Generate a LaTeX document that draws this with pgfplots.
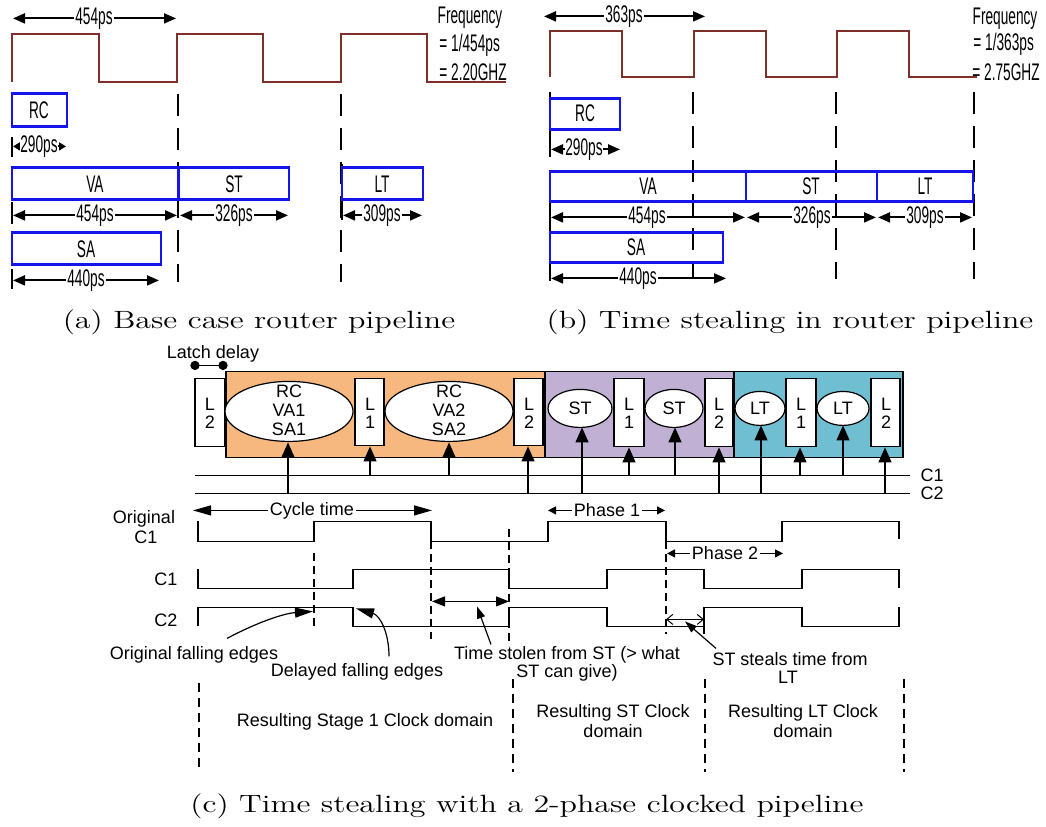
\documentclass[border=0pt]{standalone}
\usepackage{pgfplots}
\pgfplotsset{compat=1.18}
\usepackage{fontspec}
\setsansfont{Liberation Sans}
\usepackage{graphicx}
\usetikzlibrary{arrows.meta}

\definecolor{clk}{RGB}{128,48,42}
\definecolor{stg}{RGB}{20,20,235}
\definecolor{orng}{RGB}{247,184,128}
\definecolor{purp}{RGB}{192,176,212}
\definecolor{tealb}{RGB}{112,190,210}

% condensed labels of the two pipeline sketches
\newcommand{\nt}[1]{\scalebox{0.57}[1]{\sffamily\fontsize{12}{14}\selectfont #1}}
% captions
\newcommand{\subcap}[1]{\scalebox{1.28}[1]{\fontsize{12.5}{15}\selectfont #1}}

\begin{document}
\begin{tikzpicture}
\begin{axis}[
  scale only axis, width=523pt, height=411pt,
  xmin=0, xmax=1046, ymin=0, ymax=822, y dir=reverse,
  axis lines=none, clip=false,
  every axis plot/.append style={mark=none},
  wave/.style={clk, line width=1pt},
  stage/.style={stg, line width=1.25pt},
  clkdash/.style={black, line width=0.9pt, dash pattern=on 11pt off 6pt},
  tick/.style={black, line width=0.9pt},
  dim/.style={black, line width=1pt, {Triangle[length=6pt,width=5pt]}-{Triangle[length=6pt,width=5pt]}},
  sdim/.style={black, line width=1pt, {Triangle[length=3.5pt,width=4pt]}-{Triangle[length=3.5pt,width=4pt]}},
  sig/.style={black, line width=0.65pt},
  fdash/.style={black, line width=0.6pt, dash pattern=on 4pt off 2.5pt},
  ldash/.style={black, line width=0.6pt, dash pattern=on 4.5pt off 3pt},
  clkarrow/.style={black, line width=0.6pt, -{Triangle[length=7.5pt,width=6.5pt]}},
]
% full drawing area
\addplot[draw=none, forget plot] coordinates {(0,0)(1046,822)};
% ---------------- (a) base case ----------------
\addplot[wave] coordinates {(12,78)(12,30)(99,30)(99,78)(177,78)(177,30)(263,30)(263,78)(341,78)(341,30)(427,30)(427,78)(506,78)};
\addplot[clkdash] coordinates {(178,90)(178,278)};
\addplot[clkdash] coordinates {(341,90)(341,278)};
\addplot[tick] coordinates {(12,133)(12,153)};
\addplot[tick] coordinates {(12,198)(12,220)};
\addplot[tick] coordinates {(12,265)(12,285)};
\addplot[tick] coordinates {(342,160)(342,178)};
\addplot[tick] coordinates {(342,197)(342,216)};
\addplot[stage] coordinates {(12,89)(67,89)(67,122)(12,122)} --cycle;
\addplot[stage] coordinates {(12,163)(178,163)(178,195)(12,195)} --cycle;
\addplot[stage] coordinates {(179,163)(289,163)(289,195)(179,195)} --cycle;
\addplot[stage] coordinates {(342,163)(423,163)(423,195)(342,195)} --cycle;
\addplot[stage] coordinates {(12,228)(161,228)(161,260)(12,260)} --cycle;
\addplot[dim] coordinates {(13,14)(176,14)};
\addplot[sdim] coordinates {(13,142)(66,142)};
\addplot[dim] coordinates {(13,211)(177,211)};
\addplot[dim] coordinates {(180,211)(288,211)};
\addplot[dim] coordinates {(343,211)(422,211)};
\addplot[dim] coordinates {(13,276)(159,276)};
\node[fill=white,inner sep=0.6pt] at (94,14) {\nt{454ps}};
\node[fill=white,inner sep=0.3pt] at (39,142) {\nt{290ps}};
\node[fill=white,inner sep=0.6pt] at (95,211) {\nt{454ps}};
\node[fill=white,inner sep=0.6pt] at (234,211) {\nt{326ps}};
\node[fill=white,inner sep=0.6pt] at (382,211) {\nt{309ps}};
\node[fill=white,inner sep=0.6pt] at (86,276) {\nt{440ps}};
\node at (39,106) {\nt{RC}};
\node at (95,180) {\nt{VA}};
\node at (234,180) {\nt{ST}};
\node at (382,180) {\nt{LT}};
\node at (86,245) {\nt{SA}};
\node at (470,13) {\nt{Frequency}};
\node[anchor=west,inner sep=0pt] at (439,41) {\nt{= 1/454ps}};
\node[anchor=west,inner sep=0pt] at (439,68) {\nt{= 2.20GHZ}};
\node at (259,318) {\subcap{(a) Base case router pipeline}};

% ---------------- (b) time stealing ----------------
\addplot[wave] coordinates {(550,73)(550,27)(622,27)(622,73)(694,73)(694,27)(766,27)(766,73)(837,73)(837,27)(909,27)(909,73)(977,73)};
\addplot[clkdash] coordinates {(693,88)(693,275)};
\addplot[clkdash] coordinates {(836,88)(836,275)};
\addplot[clkdash] coordinates {(974,88)(974,275)};
\addplot[tick] coordinates {(550,88)(550,94)};
\addplot[tick] coordinates {(550,126)(550,153)};
\addplot[tick] coordinates {(550,197)(550,227)};
\addplot[tick] coordinates {(550,258)(550,277)};
\addplot[stage] coordinates {(550,94)(620,94)(620,125)(550,125)} --cycle;
\addplot[stage] coordinates {(550,167)(746,167)(746,197)(550,197)} --cycle;
\addplot[stage] coordinates {(746,167)(877,167)(877,197)(746,197)} --cycle;
\addplot[stage] coordinates {(877,167)(973,167)(973,197)(877,197)} --cycle;
\addplot[stage] coordinates {(550,228)(723,228)(723,258)(550,258)} --cycle;
\addplot[dim] coordinates {(544,12)(705,12)};
\addplot[dim] coordinates {(551,145)(620,145)};
\addplot[dim] coordinates {(551,213)(745,213)};
\addplot[dim] coordinates {(747,213)(876,213)};
\addplot[dim] coordinates {(878,213)(972,213)};
\addplot[dim] coordinates {(551,274)(726,274)};
\node[fill=white,inner sep=0.6pt] at (624,12) {\nt{363ps}};
\node[fill=white,inner sep=0.3pt] at (584,145) {\nt{290ps}};
\node[fill=white,inner sep=0.6pt] at (647,213) {\nt{454ps}};
\node[fill=white,inner sep=0.6pt] at (812,213) {\nt{326ps}};
\node[fill=white,inner sep=0.6pt] at (925,213) {\nt{309ps}};
\node[fill=white,inner sep=0.6pt] at (638,274) {\nt{440ps}};
\node at (585,109) {\nt{RC}};
\node at (648,182) {\nt{VA}};
\node at (811,182) {\nt{ST}};
\node at (925,182) {\nt{LT}};
\node at (636,243) {\nt{SA}};
\node at (1005,14) {\nt{Frequency}};
\node[anchor=west,inner sep=0pt] at (973,40) {\nt{= 1/363ps}};
\node[anchor=west,inner sep=0pt] at (972,68) {\nt{= 2.75GHZ}};
\node at (790,318) {\subcap{(b) Time stealing in router pipeline}};

% ---------------- (c) two-phase clocked pipeline ----------------
\addplot[fill=orng, draw=black, line width=0.6pt] coordinates {(226,367)(545,367)(545,453)(226,453)} --cycle;
\addplot[fill=purp, draw=black, line width=0.6pt] coordinates {(545,367)(734,367)(734,453)(545,453)} --cycle;
\addplot[fill=tealb, draw=black, line width=0.6pt] coordinates {(734,367)(903,367)(903,453)(734,453)} --cycle;
% latches
\addplot[fill=white, draw=black, line width=0.6pt] coordinates {(195,374)(225,374)(225,442)(195,442)} --cycle;
\addplot[fill=white, draw=black, line width=0.6pt] coordinates {(355,374)(384,374)(384,441)(355,441)} --cycle;
\addplot[fill=white, draw=black, line width=0.6pt] coordinates {(514,374)(543,374)(543,441)(514,441)} --cycle;
\addplot[fill=white, draw=black, line width=0.6pt] coordinates {(614,374)(644,374)(644,442)(614,442)} --cycle;
\addplot[fill=white, draw=black, line width=0.6pt] coordinates {(705,374)(733,374)(733,442)(705,442)} --cycle;
\addplot[fill=white, draw=black, line width=0.6pt] coordinates {(786,374)(816,374)(816,442)(786,442)} --cycle;
\addplot[fill=white, draw=black, line width=0.6pt] coordinates {(871,374)(900,374)(900,442)(871,442)} --cycle;
% logic blocks
\draw[fill=white, line width=0.6pt] (289,407) ellipse [x radius=64, y radius=30];
\draw[fill=white, line width=0.6pt] (449,407) ellipse [x radius=64, y radius=30];
\draw[fill=white, line width=0.6pt] (580,404) ellipse [x radius=32, y radius=19];
\draw[fill=white, line width=0.6pt] (674,404) ellipse [x radius=29, y radius=19];
\draw[fill=white, line width=0.6pt] (760,404) ellipse [x radius=25, y radius=17];
\draw[fill=white, line width=0.6pt] (843,404) ellipse [x radius=26, y radius=17];
\begin{scope}[font=\sffamily\fontsize{9}{9.5}\selectfont]
\node[align=center] at (289,406) {RC\\VA1\\SA1};
\node[align=center] at (449,406) {RC\\VA2\\SA2};
\node at (580,404) {ST};
\node at (674,404) {ST};
\node at (760,404) {LT};
\node at (843,404) {LT};
\end{scope}
\begin{scope}[font=\sffamily\fontsize{9}{8.7}\selectfont]
\node[align=center] at (210,409) {L\\2};
\node[align=center] at (370,409) {L\\1};
\node[align=center] at (529,409) {L\\2};
\node[align=center] at (629,409) {L\\1};
\node[align=center] at (719,409) {L\\2};
\node[align=center] at (801,409) {L\\1};
\node[align=center] at (886,409) {L\\2};
\end{scope}
% clock rails
\addplot[sig] coordinates {(195,471)(910,471)};
\addplot[sig] coordinates {(195,489)(910,489)};
\addplot[clkarrow] coordinates {(288,489)(288,438)};
\addplot[clkarrow] coordinates {(370,471)(370,442)};
\addplot[clkarrow] coordinates {(449,471)(449,438)};
\addplot[clkarrow] coordinates {(528,489)(528,442)};
\addplot[clkarrow] coordinates {(582,489)(582,423)};
\addplot[clkarrow] coordinates {(629,471)(629,443)};
\addplot[clkarrow] coordinates {(675,471)(675,423)};
\addplot[clkarrow] coordinates {(719,489)(719,443)};
\addplot[clkarrow] coordinates {(761,489)(761,421)};
\addplot[clkarrow] coordinates {(800,471)(800,443)};
\addplot[clkarrow] coordinates {(843,471)(843,421)};
\addplot[clkarrow] coordinates {(885,489)(885,443)};
% latch delay marker
\addplot[black, line width=0.6pt, mark=*, mark size=2pt] coordinates {(195,361)(223,361)};
% waveforms
\addplot[sig] coordinates {(198,517)(198,537)(314,537)(314,517)(431,517)(431,537)(548,537)(548,517)(666,517)(666,537)(782,537)(782,517)(899,517)(899,535)};
\addplot[sig] coordinates {(198,565)(198,584)(353,584)(353,565)(509,565)(509,584)(607,584)(607,565)(704,565)(704,584)(802,584)(802,565)(899,565)(899,584)};
\addplot[sig] coordinates {(198,622)(198,603)(353,603)(353,622)(509,622)(509,603)(607,603)(607,622)(704,622)(704,603)(802,603)(802,622)(899,622)(899,603)};
% edge markers
\addplot[fdash] coordinates {(314,549)(314,625)};
\addplot[fdash] coordinates {(431,537)(431,635)};
\addplot[fdash] coordinates {(509,525)(509,642)};
\addplot[fdash] coordinates {(666,537)(666,630)};
\addplot[fdash] coordinates {(704,622)(704,634)};
\addplot[ldash] coordinates {(199,679)(199,764)};
\addplot[ldash] coordinates {(513,675)(513,768)};
\addplot[ldash] coordinates {(705,675)(705,768)};
\addplot[ldash] coordinates {(904,675)(904,768)};
% interval arrows
\addplot[black, line width=0.6pt, {Triangle[length=9pt,width=5pt]}-{Triangle[length=9pt,width=5pt]}] coordinates {(193,506)(432,506)};
\addplot[black, line width=0.6pt, {Triangle[length=4pt,width=4pt]}-{Triangle[length=4pt,width=4pt]}] coordinates {(548,506)(665,506)};
\addplot[black, line width=0.6pt, {Triangle[length=4pt,width=4pt]}-{Triangle[length=4pt,width=4pt]}] coordinates {(667,549)(783,549)};
\addplot[black, line width=0.6pt, {Triangle[length=6.5pt,width=5pt]}-{Triangle[length=6.5pt,width=5pt]}] coordinates {(432,597)(509,597)};
\addplot[black, line width=0.5pt, {Straight Barb[length=3pt,width=5pt]}-{Straight Barb[length=3pt,width=5pt]}] coordinates {(666,615)(704,615)};
\begin{scope}[font=\sffamily\fontsize{9}{10.5}\selectfont]
\node[fill=white,inner sep=0.8pt] at (312,506) {Cycle time};
\node[fill=white,inner sep=0.8pt] at (607,506) {Phase 1};
\node[fill=white,inner sep=0.8pt] at (725,549) {Phase 2};
\node at (144,514) {Original};
\node at (146,533) {C1};
\node at (166,575) {C1};
\node at (166,616) {C2};
\node at (932,471) {C1};
\node at (932,489) {C2};
\node at (213,349) {Latch delay};
\node at (194,650) {Original falling edges};
\node at (357,667) {Delayed falling edges};
\node at (567,650) {Time stolen from ST (> what};
\node at (567,668) {ST can give)};
\node at (790,655) {ST steals time from};
\node at (788,673) {LT};
\node at (365,717) {Resulting Stage 1 Clock domain};
\node at (613,708) {Resulting ST Clock};
\node at (613,727) {domain};
\node at (803,708) {Resulting LT Clock};
\node at (803,727) {domain};
\end{scope}
% pointers
\draw[line width=0.6pt, -{Triangle[length=9pt,width=5pt]}] (227,634) .. controls (255,619) and (283,609) .. (313,607);
\draw[line width=0.6pt, -{Triangle[length=9pt,width=5pt]}] (389,652) .. controls (389,628) and (380,611) .. (356,604);
\draw[line width=0.6pt, -{Triangle[length=6pt,width=4pt]}] (491,640) -- (477,602);
\draw[line width=0.6pt, -{Triangle[length=6pt,width=4pt]}] (716,644) -- (685,617);
\node at (527,802) {\subcap{(c) Time stealing with a 2-phase clocked pipeline}};
\end{axis}
\end{tikzpicture}
\end{document}
